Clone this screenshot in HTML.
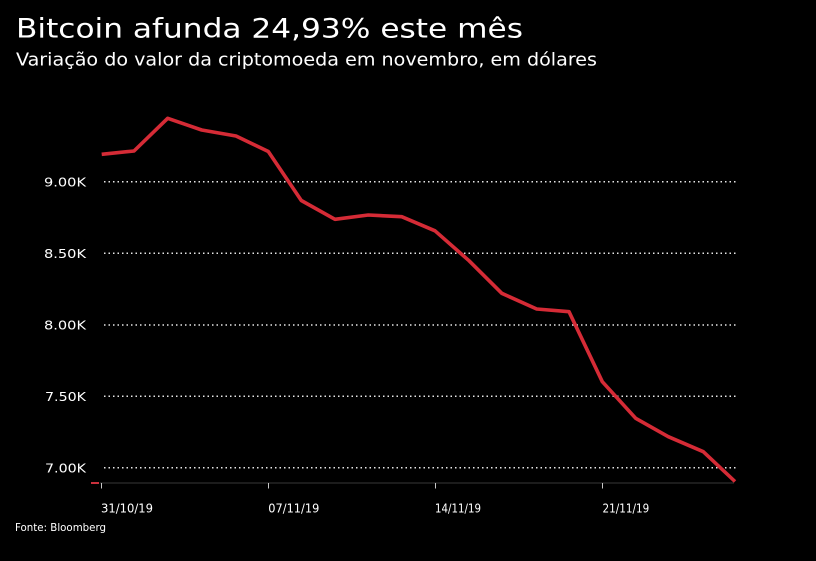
<!DOCTYPE html>
<html>
<head>
<meta charset="utf-8">
<style>
  html, body { margin: 0; padding: 0; background: #000; }
  body { width: 816px; height: 561px; overflow: hidden; }
  svg { display: block; }
  text { font-family: "DejaVu Sans", "Liberation Sans", sans-serif; fill: #fff; }
</style>
</head>
<body>
<svg width="816" height="561" viewBox="0 0 816 561" xmlns="http://www.w3.org/2000/svg">
  <rect x="0" y="0" width="816" height="561" fill="#000"/>

  <!-- Title -->
  <text x="16" y="37.5" font-size="27" textLength="507" lengthAdjust="spacingAndGlyphs">Bitcoin afunda 24,93% este mês</text>
  <text x="16" y="65.7" font-size="18" textLength="581" lengthAdjust="spacingAndGlyphs">Variação do valor da criptomoeda em novembro, em dólares</text>

  <!-- Gridlines -->
  <g stroke="#e6e6e6" stroke-width="1.5" stroke-dasharray="1.5 3" fill="none">
    <line x1="104" y1="181.7" x2="738" y2="181.7"/>
    <line x1="104" y1="253.3" x2="738" y2="253.3"/>
    <line x1="104" y1="325" x2="738" y2="325"/>
    <line x1="104" y1="396.3" x2="738" y2="396.3"/>
    <line x1="104" y1="467.7" x2="738" y2="467.7"/>
  </g>

  <!-- Y labels -->
  <g font-size="12.5" text-anchor="end" style="fill:#ececec">
    <text x="86" y="186.4" textLength="42" lengthAdjust="spacingAndGlyphs">9.00K</text>
    <text x="86" y="258" textLength="42" lengthAdjust="spacingAndGlyphs">8.50K</text>
    <text x="86" y="329.7" textLength="42" lengthAdjust="spacingAndGlyphs">8.00K</text>
    <text x="86" y="401" textLength="41" lengthAdjust="spacingAndGlyphs">7.50K</text>
    <text x="86" y="472.4" textLength="41" lengthAdjust="spacingAndGlyphs">7.00K</text>
  </g>

  <!-- Axis -->
  <line x1="100" y1="483" x2="734" y2="483" stroke="#262626" stroke-width="1.5"/>
  <g stroke="#c8c8c8" stroke-width="1">
    <line x1="101.5" y1="483" x2="101.5" y2="488.5"/>
    <line x1="268.5" y1="483" x2="268.5" y2="488.5"/>
    <line x1="435.5" y1="483" x2="435.5" y2="488.5"/>
    <line x1="602.5" y1="483" x2="602.5" y2="488.5"/>
  </g>
  <line x1="91" y1="483" x2="99" y2="483" stroke="#c9303c" stroke-width="2"/>

  <!-- X labels -->
  <g font-size="12.5" style="fill:#ececec">
    <text x="101" y="512.3" textLength="52" lengthAdjust="spacingAndGlyphs">31/10/19</text>
    <text x="268.3" y="512.3" textLength="51" lengthAdjust="spacingAndGlyphs">07/11/19</text>
    <text x="435" y="512.3" textLength="46" lengthAdjust="spacingAndGlyphs">14/11/19</text>
    <text x="602.5" y="512.3" textLength="46.7" lengthAdjust="spacingAndGlyphs">21/11/19</text>
  </g>

  <!-- Source -->
  <text x="15" y="531" font-size="10.5" textLength="91" lengthAdjust="spacingAndGlyphs">Fonte: Bloomberg</text>

  <!-- Series -->
  <polyline fill="none" stroke="#d52b36" stroke-width="3.6" stroke-linejoin="round" stroke-linecap="butt"
    points="101.7,154.3 134,151 167.7,118.3 201.7,130 236,136 268.3,151.5 301.3,200.5 335,219.3 368.3,215 401.7,216.7 435,230.8 469,260.7 501.8,293.3 536.7,309 569,311.7 602.3,381.7 635.7,418.3 668.3,436.7 703.3,451.7 735,481.5"/>
</svg>
</body>
</html>
